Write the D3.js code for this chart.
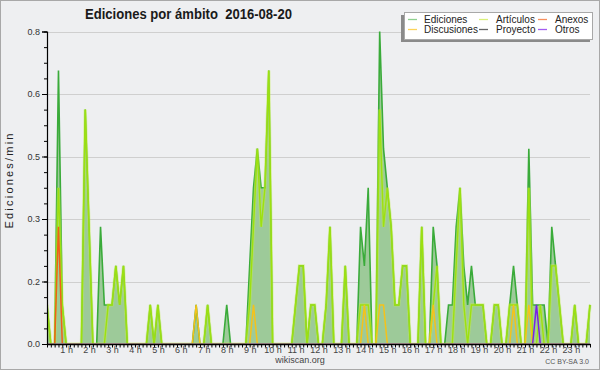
<!DOCTYPE html>
<html>
<head>
<meta charset="utf-8">
<script src="https://cdn.jsdelivr.net/npm/d3@7"></script>
<style>
body { margin:0; background:#eeeff1; }
svg { display:block; font-family:"Liberation Sans", Arial, sans-serif; }
</style>
</head>
<body>
<div id="chart-area"></div>
<script>
// 10-minute slots, labelled by the end of the slot (00:10 ... 23:50)
const slots = d3.range(10, 1440, 10);

const hourTimes = [60,120,180,240,300,360,420,480,540,600,660,720,780,840,900,960,1020,1080,1140,1200,1260,1320,1380];
const hourLabels = ["1 h","2 h","3 h","4 h","5 h","6 h","7 h","8 h","9 h","10 h","11 h","12 h",
                    "13 h","14 h","15 h","16 h","17 h","18 h","19 h","20 h","21 h","22 h","23 h"];

const yTickValues = [0, 0.16, 0.32, 0.48, 0.64, 0.8];

// edits per minute, one value per slot
const ediciones = [
  0.1,0,0,0.7,0.1,0,0,0,0,0,0.6,0.3,
  0,0,0.3,0.1,0.1,0.1,0.2,0.1,0.2,0,0,0,
  0,0,0,0.1,0,0.1,0,0,0,0,0,0,
  0,0,0,0.1,0,0,0.1,0,0,0,0,0.1,
  0,0,0,0,0,0.2,0.4,0.5,0.4,0.4,0.7,0,
  0,0,0,0,0,0.1,0.2,0.2,0,0.1,0.1,0,
  0,0.1,0.3,0,0,0,0.2,0,0,0,0.3,0.2,
  0.4,0,0,0.8,0.5,0.4,0.3,0.1,0.1,0.2,0.2,0,
  0,0,0.3,0,0,0.3,0.2,0,0,0.1,0.1,0.3,
  0.4,0.2,0.1,0.2,0.1,0.1,0.1,0,0,0.1,0.1,0,
  0,0.1,0.2,0.1,0,0,0.5,0.1,0.1,0.1,0.1,0,
  0.3,0.2,0.1,0,0,0,0.1,0,0,0,0.1
];
const articulos = [
  0.1,0,0,0.4,0.1,0,0,0,0,0,0.6,0.3,
  0,0,0,0,0.1,0.1,0.2,0.1,0.2,0,0,0,
  0,0,0,0.1,0,0.1,0,0,0,0,0,0,
  0,0,0,0,0,0,0.1,0,0,0,0,0,
  0,0,0,0,0,0.1,0.3,0.5,0.3,0.4,0.7,0,
  0,0,0,0,0,0.1,0.2,0.2,0,0.1,0.1,0,
  0,0.1,0.3,0,0,0,0.2,0,0,0,0.1,0.1,
  0.1,0,0,0.6,0.3,0.4,0.3,0.1,0.1,0.2,0.2,0,
  0,0,0.3,0,0,0.1,0.2,0,0,0,0,0.2,
  0.4,0.1,0,0.1,0.1,0.1,0.1,0,0,0.1,0.1,0,
  0,0.1,0.1,0.1,0,0,0.4,0,0,0.1,0,0,
  0.2,0.2,0.1,0,0,0,0.1,0,0,0,0.1
];
const anexos = [
  0,0,0,0.3,0,0,0,0,0,0,0,0,
  0,0,0,0,0,0,0,0,0,0,0,0,
  0,0,0,0,0,0,0,0,0,0,0,0,
  0,0,0,0,0,0,0,0,0,0,0,0,
  0,0,0,0,0,0,0,0,0,0,0,0,
  0,0,0,0,0,0,0,0,0,0,0,0,
  0,0,0,0,0,0,0,0,0,0,0,0,
  0,0,0,0,0,0,0,0,0,0,0,0,
  0,0,0,0,0,0,0,0,0,0,0,0,
  0,0,0,0,0,0,0,0,0,0,0,0,
  0,0,0,0,0,0,0,0,0,0,0,0,
  0,0,0,0,0,0,0,0,0,0,0
];
const discusiones = [
  0,0,0,0,0,0,0,0,0,0,0,0,
  0,0,0,0,0,0,0,0,0,0,0,0,
  0,0,0,0,0,0,0,0,0,0,0,0,
  0,0,0,0.1,0,0,0,0,0,0,0,0,
  0,0,0,0,0,0,0.1,0,0,0,0,0,
  0,0,0,0,0,0,0,0,0,0,0,0,
  0,0,0,0,0,0,0,0,0,0,0,0.1,
  0,0,0,0.1,0.1,0,0,0,0,0,0,0,
  0,0,0,0,0,0.1,0,0,0,0,0,0,
  0,0,0,0,0,0,0,0,0,0,0,0,
  0,0,0.1,0,0,0,0.1,0,0,0,0,0,
  0,0,0,0,0,0,0,0,0,0,0
];
const proyecto = [
  0,0,0,0,0,0,0,0,0,0,0,0,
  0,0,0,0,0,0,0,0,0,0,0,0,
  0,0,0,0,0,0,0,0,0,0,0,0,
  0,0,0,0,0,0,0,0,0,0,0,0,
  0,0,0,0,0,0,0,0,0,0,0,0,
  0,0,0,0,0,0,0,0,0,0,0,0,
  0,0,0,0,0,0,0,0,0,0,0,0,
  0,0,0,0,0,0,0,0,0,0,0,0,
  0,0,0,0,0,0,0,0,0,0,0,0,
  0,0,0,0,0,0,0,0,0,0,0,0,
  0,0,0,0,0,0,0,0,0,0,0,0,
  0,0,0,0,0,0,0,0,0,0,0
];
const otros = [
  0,0,0,0,0,0,0,0,0,0,0,0,
  0,0,0,0,0,0,0,0,0,0,0,0,
  0,0,0,0,0,0,0,0,0,0,0,0,
  0,0,0,0,0,0,0,0,0,0,0,0,
  0,0,0,0,0,0,0,0,0,0,0,0,
  0,0,0,0,0,0,0,0,0,0,0,0,
  0,0,0,0,0,0,0,0,0,0,0,0,
  0,0,0,0,0,0,0,0,0,0,0,0,
  0,0,0,0,0,0,0,0,0,0,0,0,
  0,0,0,0,0,0,0,0,0,0,0,0,
  0,0,0,0,0,0,0,0,0.1,0,0,0,
  0,0,0,0,0,0,0,0,0,0,0
];

const legendItems = [
  {name:"Ediciones",   color:"#8fd08f"},
  {name:"Artículos",   color:"#d9f07a"},
  {name:"Anexos",      color:"#f7905e"},
  {name:"Discusiones", color:"#fcd35a"},
  {name:"Proyecto",    color:"#666666"},
  {name:"Otros",       color:"#a35cf0"}
];

var svg = d3.select("#chart-area").append("svg")
    .attr("width", 600)
    .attr("height", 370);

svg.append("rect").attr("width",600).attr("height",370).attr("fill","#eeeff1");
svg.append("rect")
   .attr("x",0.5).attr("y",0.5).attr("width",599).attr("height",369)
   .attr("fill","none").attr("stroke","#a8a8a8");

var x = d3.scaleLinear().domain([10,1430]).range([47,590]);
var y = d3.scaleLinear().domain([0,0.8]).range([344,31.5]);

// grid
svg.append("g")
   .selectAll("line")
   .data(yTickValues.slice(1))
   .enter().append("line")
   .attr("x1",47).attr("x2",590)
   .attr("y1",d => Math.round(y(d))+0.5).attr("y2",d => Math.round(y(d))+0.5)
   .attr("stroke","#cfcfcf");

svg.append("clipPath").attr("id","plot-clip")
   .append("rect").attr("x",47).attr("y",0).attr("width",546).attr("height",343.3);

var plot = svg.append("g").attr("clip-path","url(#plot-clip)");

var area = d3.area()
    .x((d,i) => x(slots[i]))
    .y0(y(0))
    .y1(d => y(d));
var line = d3.line()
    .x((d,i) => x(slots[i]))
    .y(d => y(d));

plot.append("path").datum(ediciones)
    .attr("d",area).attr("fill","#9dca99");
plot.append("path").datum(ediciones)
    .attr("d",line).attr("fill","none").attr("stroke","#3aab3a").attr("stroke-width",1.6);

plot.append("path").datum(articulos)
    .attr("d",line).attr("fill","none").attr("stroke","#c4f04a").attr("stroke-opacity",0.45).attr("stroke-width",3.2);
plot.append("path").datum(articulos)
    .attr("d",line).attr("fill","none").attr("stroke","#9de010").attr("stroke-width",1.4);

var others = [
  {values:anexos, color:"#f06018"},
  {values:discusiones, color:"#f5c21a"},
  {values:proyecto, color:"#555555"},
  {values:otros, color:"#7a22e6"}
];
others.forEach(function(s){
  plot.append("path").datum(s.values)
      .attr("d",line).attr("fill","none").attr("stroke",s.color).attr("stroke-width",1.5);
});

// y axis
var yMinor = d3.range(0, 0.81, 0.04);
svg.append("g")
   .attr("transform","translate(47,0)")
   .call(d3.axisLeft(y).tickValues(yMinor).tickSize(3).tickFormat(""))
   .call(g => g.select(".domain").remove());
var yAxis = svg.append("g")
   .attr("transform","translate(47,0)")
   .call(d3.axisLeft(y).tickValues(yTickValues).tickSize(5).tickPadding(2).tickFormat(d3.format(".1f")));
yAxis.select(".domain").attr("stroke","#000").attr("stroke-width",1.2);
yAxis.selectAll("text").attr("font-size",9).attr("fill","#333").attr("font-family","Liberation Sans, Arial, sans-serif");

// x axis
var xAxis = svg.append("g")
   .attr("transform","translate(0,344)")
   .call(d3.axisBottom(x).tickValues(slots).tickSize(3.5).tickSizeOuter(0).tickFormat(""));
xAxis.select(".domain").attr("stroke","#000").attr("stroke-width",1.4);
var xLabels = svg.append("g")
   .attr("transform","translate(0,344)")
   .call(d3.axisBottom(x).tickValues(hourTimes).tickSize(0).tickPadding(2.5)
           .tickFormat((d,i) => hourLabels[i]));
xLabels.select(".domain").remove();
xLabels.selectAll("text").attr("font-size",9).attr("fill","#444").attr("font-family","Liberation Sans, Arial, sans-serif");

// titles
svg.append("text")
   .attr("x",85).attr("y",18.5)
   .attr("font-size",14).attr("font-weight","bold").attr("fill","#1a1a1a")
   .attr("textLength",207).attr("lengthAdjust","spacingAndGlyphs")
   .text("Ediciones por ámbito\u00a0\u00a02016-08-20");

svg.append("text")
   .attr("transform","translate(13,181) rotate(-90)")
   .attr("text-anchor","middle")
   .attr("font-size",11).attr("fill","#222")
   .attr("textLength",95).attr("lengthAdjust","spacing")
   .text("Ediciones/min");

svg.append("text")
   .attr("x",300).attr("y",363)
   .attr("text-anchor","middle")
   .attr("font-size",9).attr("fill","#444")
   .text("wikiscan.org");

svg.append("text")
   .attr("x",589).attr("y",364)
   .attr("text-anchor","end")
   .attr("font-size",7).attr("fill","#555")
   .text("CC BY-SA 3.0");

// legend
var legend = svg.append("g");
legend.append("rect").attr("x",401).attr("y",15).attr("width",189).attr("height",27).attr("fill","#8a8a8a");
legend.append("rect").attr("x",404.5).attr("y",12.5).attr("width",188).attr("height",27)
      .attr("fill","#fff").attr("stroke","#a8a8a8");

const colX = [408, 479, 538];
const textX = [424, 496, 555];
const rowY = [19, 29];

legendItems.forEach(function(d,i){
  var c = i % 3, r = Math.floor(i / 3);
  legend.append("line")
        .attr("x1",colX[c]).attr("x2",colX[c]+9)
        .attr("y1",rowY[r]+0.5).attr("y2",rowY[r]+0.5)
        .attr("stroke",d.color).attr("stroke-width",1.3);
  legend.append("text")
        .attr("x",textX[c]).attr("y",rowY[r]+3.5)
        .attr("font-size",10).attr("fill","#222")
        .text(d.name);
});
</script>
</body>
</html>
